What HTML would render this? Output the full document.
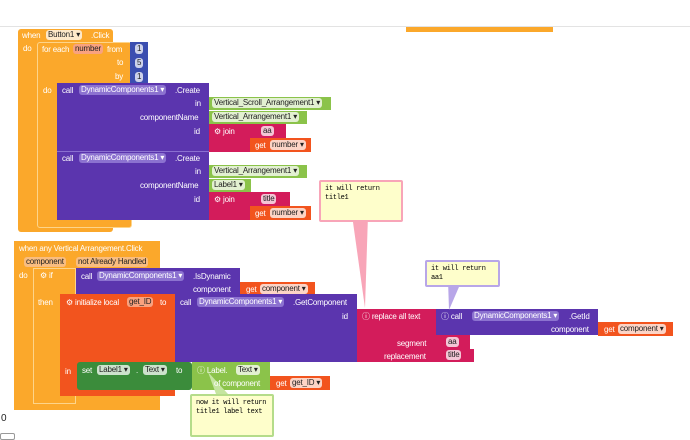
<!DOCTYPE html>
<html><head><meta charset="utf-8"><style>
body{margin:0;width:690px;height:440px;background:#fff;position:relative;overflow:hidden;font-family:"Liberation Sans",Arial,sans-serif;font-size:8px;color:#fff}
.b{position:absolute;box-sizing:border-box}
.t{position:absolute;white-space:nowrap;line-height:11px;letter-spacing:-0.2px}
.p{position:absolute;white-space:nowrap;background:rgba(255,255,255,.75);color:#222;border-radius:3px;padding:0 2px;line-height:10px;font-size:8px;letter-spacing:-0.2px}
.O{background:#fba82b}.P{background:#5b35ae}.K{background:#d31c5b}.R{background:#f2541e}.G{background:#8bc34a}.D{background:#3b8c3b}.N{background:#3b4eb0}
.c{position:absolute;box-sizing:border-box;background:#fefecb;color:#000;font-family:"Liberation Mono",monospace;font-size:7px;line-height:9px;padding:3px 4px;border-radius:2px;letter-spacing:-0.3px}
</style></head><body>
<div class="b" style="left:0;top:26px;width:690px;height:1px;background:#e3e3e3"></div>
<div class="b O" style="left:406px;top:27px;width:147px;height:5px"></div>

<!-- block 1 -->
<div class="b O" style="left:18px;top:29px;width:95px;height:203px;border-radius:3px"></div>
<div class="t" style="left:22px;top:30px">when</div><div class="p" style="left:46px;top:30px">Button1 ▾</div><div class="t" style="left:91px;top:30px">.Click</div>
<div class="t" style="left:23px;top:43px">do</div>
<div class="b O" style="left:37px;top:42px;width:95px;height:186px;border:1px solid #fdd48a;border-radius:3px"></div>
<div class="t" style="left:42px;top:44px">for each</div><div class="p" style="left:73px;top:44px;background:#f9a27f">number</div><div class="t" style="left:107px;top:44px">from</div>
<div class="t" style="left:117px;top:57px">to</div><div class="t" style="left:115px;top:71px">by</div>
<div class="b N" style="left:130px;top:42px;width:18px;height:14px"></div><div class="p" style="left:135px;top:44px;padding:0 2px">1</div>
<div class="b N" style="left:130px;top:56px;width:18px;height:14px"></div><div class="p" style="left:135px;top:58px;padding:0 2px">5</div>
<div class="b N" style="left:130px;top:70px;width:18px;height:14px"></div><div class="p" style="left:135px;top:72px;padding:0 2px">1</div>
<div class="t" style="left:43px;top:85px">do</div>
<div class="b P" style="left:57px;top:83px;width:152px;height:69px;border-bottom:1px solid #8a6fd0"></div>
<div class="b P" style="left:57px;top:152px;width:152px;height:68px"></div>
<div class="t" style="left:62px;top:85px">call</div><div class="p" style="left:79px;top:85px;background:#8c72d0;color:#fff">DynamicComponents1 ▾</div><div class="t" style="left:175px;top:85px">.Create</div>
<div class="t" style="left:195px;top:98px">in</div><div class="t" style="left:140px;top:112px">componentName</div><div class="t" style="left:194px;top:126px">id</div>
<div class="t" style="left:62px;top:153px">call</div><div class="p" style="left:79px;top:153px;background:#8c72d0;color:#fff">DynamicComponents1 ▾</div><div class="t" style="left:175px;top:153px">.Create</div>
<div class="t" style="left:195px;top:166px">in</div><div class="t" style="left:140px;top:180px">componentName</div><div class="t" style="left:194px;top:194px">id</div>
<div class="b G" style="left:209px;top:97px;width:122px;height:13px"></div><div class="p" style="left:212px;top:98px">Vertical_Scroll_Arrangement1 ▾</div>
<div class="b G" style="left:209px;top:111px;width:98px;height:13px"></div><div class="p" style="left:212px;top:112px">Vertical_Arrangement1 ▾</div>
<div class="b K" style="left:209px;top:124px;width:41px;height:28px"></div><div class="t" style="left:214px;top:126px">⚙ join</div>
<div class="b K" style="left:250px;top:124px;width:36px;height:14px"></div><div class="p" style="left:261px;top:126px">aa</div>
<div class="b R" style="left:250px;top:138px;width:61px;height:14px"></div><div class="t" style="left:255px;top:140px">get</div><div class="p" style="left:270px;top:140px">number ▾</div>
<div class="b G" style="left:209px;top:165px;width:98px;height:13px"></div><div class="p" style="left:212px;top:166px">Vertical_Arrangement1 ▾</div>
<div class="b G" style="left:209px;top:179px;width:42px;height:13px"></div><div class="p" style="left:212px;top:180px">Label1 ▾</div>
<div class="b K" style="left:209px;top:192px;width:41px;height:28px"></div><div class="t" style="left:214px;top:194px">⚙ join</div>
<div class="b K" style="left:250px;top:192px;width:40px;height:14px"></div><div class="p" style="left:261px;top:194px">title</div>
<div class="b R" style="left:250px;top:206px;width:61px;height:14px"></div><div class="t" style="left:255px;top:208px">get</div><div class="p" style="left:270px;top:208px">number ▾</div>

<!-- comment 1 -->
<svg class="b" style="left:340px;top:215px" width="40" height="95"><polygon points="12,0 28,0 25,93" fill="#f8a5b8"/></svg>
<div class="c" style="left:319px;top:180px;width:84px;height:42px;border:2px solid #f8a5b8">it will return<br>title1</div>

<!-- block 2 -->
<div class="b O" style="left:14px;top:241px;width:146px;height:169px"></div>
<div class="t" style="left:19px;top:243px">when any Vertical Arrangement.Click</div>
<div class="p" style="left:24px;top:257px;background:#f9bd80">component</div><div class="p" style="left:76px;top:257px;background:#f9bd80">not Already Handled</div>
<div class="t" style="left:19px;top:270px">do</div>
<div class="b" style="left:33px;top:268px;width:43px;height:136px;background:#fba82b;border:1px solid #fdd48a"></div>
<div class="t" style="left:40px;top:270px">⚙ if</div><div class="t" style="left:38px;top:297px">then</div>
<div class="b P" style="left:76px;top:268px;width:164px;height:26px"></div>
<div class="t" style="left:81px;top:271px">call</div><div class="p" style="left:97px;top:271px;background:#8c72d0;color:#fff">DynamicComponents1 ▾</div><div class="t" style="left:193px;top:271px">.IsDynamic</div>
<div class="t" style="left:193px;top:284px">component</div>
<div class="b R" style="left:240px;top:282px;width:75px;height:14px"></div><div class="t" style="left:246px;top:284px">get</div><div class="p" style="left:260px;top:284px">component ▾</div>
<div class="b R" style="left:60px;top:294px;width:115px;height:102px"></div>
<div class="t" style="left:66px;top:297px">⚙ initialize local</div><div class="p" style="left:127px;top:297px;background:#f9a27f">get_ID</div><div class="t" style="left:160px;top:297px">to</div>
<div class="t" style="left:65px;top:366px">in</div>
<div class="b P" style="left:175px;top:294px;width:182px;height:68px"></div>
<div class="t" style="left:180px;top:297px">call</div><div class="p" style="left:197px;top:297px;background:#8c72d0;color:#fff">DynamicComponents1 ▾</div><div class="t" style="left:293px;top:297px">.GetComponent</div>
<div class="t" style="left:342px;top:311px">id</div>
<div class="b K" style="left:357px;top:309px;width:79px;height:53px"></div>
<div class="t" style="left:362px;top:311px">ⓘ replace all text</div>
<div class="t" style="left:397px;top:338px">segment</div><div class="t" style="left:384px;top:351px">replacement</div>
<div class="b K" style="left:436px;top:335px;width:34px;height:14px"></div><div class="p" style="left:446px;top:337px">aa</div>
<div class="b K" style="left:436px;top:349px;width:38px;height:13px"></div><div class="p" style="left:446px;top:350px">title</div>
<div class="b P" style="left:436px;top:309px;width:162px;height:26px"></div>
<div class="t" style="left:441px;top:311px">ⓘ call</div><div class="p" style="left:472px;top:311px;background:#8c72d0;color:#fff">DynamicComponents1 ▾</div><div class="t" style="left:569px;top:311px">.GetId</div>
<div class="t" style="left:551px;top:324px">component</div>
<div class="b R" style="left:598px;top:322px;width:75px;height:14px"></div><div class="t" style="left:604px;top:324px">get</div><div class="p" style="left:618px;top:324px">component ▾</div>
<div class="b D" style="left:77px;top:362px;width:115px;height:28px;border-radius:3px"></div>
<div class="t" style="left:82px;top:365px">set</div><div class="p" style="left:97px;top:365px">Label1 ▾</div><div class="t" style="left:136px;top:365px">.</div><div class="p" style="left:143px;top:365px">Text ▾</div><div class="t" style="left:176px;top:365px">to</div>
<div class="b G" style="left:192px;top:362px;width:78px;height:28px"></div>
<div class="t" style="left:197px;top:365px">ⓘ Label.</div><div class="p" style="left:236px;top:365px">Text ▾</div>
<svg class="b" style="left:200px;top:372px" width="40" height="26"><polygon points="8,0 16,22 28,22" fill="#c5e5a0"/></svg>
<div class="t" style="left:214px;top:378px">of component</div>
<div class="b R" style="left:270px;top:376px;width:60px;height:14px"></div><div class="t" style="left:276px;top:378px">get</div><div class="p" style="left:290px;top:378px">get_ID ▾</div>
<div class="c" style="left:190px;top:394px;width:84px;height:43px;border:2px solid #b5dc8a">now it will return<br>title1 label text</div>
<svg class="b" style="left:440px;top:280px" width="30" height="32"><polygon points="8,0 22,0 9,30" fill="#b8a6e8"/></svg>
<div class="c" style="left:425px;top:260px;width:75px;height:27px;border:2px solid #b8a6e8">it will return<br>aa1</div>

<div class="t" style="left:1px;top:413px;color:#222;font-size:10px">0</div>
<div class="b" style="left:0;top:433px;width:15px;height:7px;border:1px solid #999;border-radius:2px"></div>
</body></html>
